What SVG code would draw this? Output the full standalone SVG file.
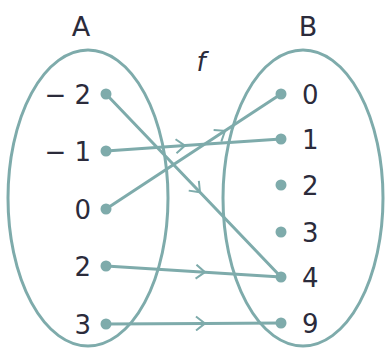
<svg xmlns="http://www.w3.org/2000/svg" width="385" height="350" viewBox="0 0 385 350">
<style>
.set{fill:none;stroke:#7eabab;stroke-width:3}
.con{fill:none;stroke:#7eabab;stroke-width:3;marker-mid:url(#chev)}
.dot{fill:#7eabab}
.lab{font-family:"DejaVu Sans",sans-serif;font-size:26px;fill:#2b2b3b}
.ttl{font-family:"DejaVu Sans",sans-serif;font-size:27px;fill:#2b2b3b;text-anchor:middle}
</style>
<defs>
<marker id="chev" viewBox="-10 -8 12 16" markerWidth="12" markerHeight="16" markerUnits="userSpaceOnUse" orient="auto">
<path d="M-9,-7 L0,0 L-9,7" fill="none" stroke="#7eabab" stroke-width="2"/>
</marker>
</defs>
<rect width="385" height="350" fill="#fff"/>
<g id="setA">
<ellipse class="set" cx="88" cy="198" rx="80" ry="148"/>
<text class="ttl" x="81" y="36">A</text>
</g>
<g id="setB">
<ellipse class="set" cx="303" cy="198" rx="80" ry="148"/>
<text class="ttl" x="308" y="36">B</text>
</g>
<text id="f" x="201" y="71" style="font-family:'DejaVu Sans',sans-serif;font-size:26px;font-style:italic;fill:#2b2b3b" text-anchor="middle">f</text>
<g id="connectors">
<path class="con" d="M106,94 L200,192.3 L281,277"/>
<path class="con" d="M106,151 L185,145.6 L281,139"/>
<path class="con" d="M106,209 L225,130.8 L281,94"/>
<path class="con" d="M106,266 L205,272.2 L281,277"/>
<path class="con" d="M106,324 L205,323.4 L281,323"/>
</g>
<g id="a-2"><circle class="dot" cx="106" cy="94" r="5.5"/><text class="lab" x="91" y="104" text-anchor="end">− 2</text></g>
<g id="a-1"><circle class="dot" cx="106" cy="151" r="5.5"/><text class="lab" x="91" y="161" text-anchor="end">− 1</text></g>
<g id="a0"><circle class="dot" cx="106" cy="209" r="5.5"/><text class="lab" x="91" y="219" text-anchor="end">0</text></g>
<g id="a2"><circle class="dot" cx="106" cy="266" r="5.5"/><text class="lab" x="91" y="276" text-anchor="end">2</text></g>
<g id="a3"><circle class="dot" cx="106" cy="324" r="5.5"/><text class="lab" x="91" y="334" text-anchor="end">3</text></g>
<g id="b0"><circle class="dot" cx="281" cy="94" r="5.5"/><text class="lab" x="302" y="104">0</text></g>
<g id="b1"><circle class="dot" cx="281" cy="139" r="5.5"/><text class="lab" x="302" y="149">1</text></g>
<g id="b2"><circle class="dot" cx="281" cy="185" r="5.5"/><text class="lab" x="302" y="195">2</text></g>
<g id="b3"><circle class="dot" cx="281" cy="232" r="5.5"/><text class="lab" x="302" y="242">3</text></g>
<g id="b4"><circle class="dot" cx="281" cy="277" r="5.5"/><text class="lab" x="302" y="287">4</text></g>
<g id="b9"><circle class="dot" cx="281" cy="323" r="5.5"/><text class="lab" x="302" y="333">9</text></g>
</svg>
